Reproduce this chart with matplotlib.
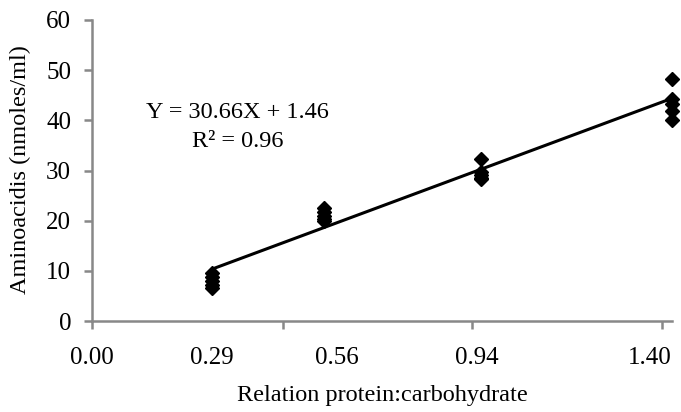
"""Aminoacids vs protein:carbohydrate relation — scatter with linear fit."""

import matplotlib
matplotlib.use("Agg")
import matplotlib.pyplot as plt
import matplotlib.transforms as mtransforms
import numpy as np

# Data
ratio_groups = [0.29, 0.56, 0.94, 1.40]
aminoacids = [
    [9.6, 8.8, 8.0, 7.2, 6.6],
    [22.6, 21.8, 21.0, 20.4, 20.0],
    [32.2, 29.8, 29.2, 28.6, 28.4],
    [48.2, 44.3, 43.2, 41.8, 40.0],
]
slope, intercept = 30.66, 1.46
r_squared = 0.96

x_tick_labels = ["0.00", "0.29", "0.56", "0.94", "1.40"]
x_label_pos = [0.0, 0.29, 0.59, 0.93, 1.40]
x_tick_marks = [0.0, 0.461, 0.917, 1.377]
y_ticks = [0, 10, 20, 30, 40, 50, 60]

plt.rcParams["font.family"] = ["Liberation Serif", "DejaVu Serif"]
axis_gray = "#888888"
tick_size = 18
text_size = 17.5

fig = plt.figure(figsize=(6.81, 4.12), dpi=100)
ax = fig.add_axes([92 / 681, 1 - 321 / 412, 580 / 681, 301 / 412])

xs = np.repeat(ratio_groups, [len(v) for v in aminoacids])
ys = np.concatenate(aminoacids)
ax.plot(xs, ys, linestyle="none", marker="D", markersize=6.8,
        color="black", zorder=3, clip_on=False)

fit_x = np.array([ratio_groups[0], ratio_groups[-1]])
ax.plot(fit_x, slope * fit_x + intercept, color="black", linewidth=2.2, zorder=2)

ax.set_xlim(0, 1.40)
ax.set_ylim(0, 60)

for side in ("top", "right"):
    ax.spines[side].set_visible(False)
for side in ("left", "bottom"):
    ax.spines[side].set_color(axis_gray)
    ax.spines[side].set_linewidth(1.8)

ax.set_yticks(y_ticks)
ax.tick_params(axis="y", colors=axis_gray, length=6, width=1.8, pad=9,
               labelcolor="black", labelsize=tick_size)
ax.set_xticks(x_tick_marks)
ax.set_xticklabels([])
ax.tick_params(axis="x", colors=axis_gray, length=6, width=1.8)

# Excel-style text labels under the x axis
trans = mtransforms.blended_transform_factory(ax.transData, ax.transAxes)
offset = mtransforms.ScaledTranslation(0, -37 / 100, fig.dpi_scale_trans)
for pos, lab in zip(x_label_pos, x_tick_labels):
    ha = "right" if pos == x_label_pos[-1] else "center"
    ax.text(pos, 0, lab, transform=trans + offset, ha=ha, va="center",
            fontsize=tick_size)

# trendline label
ax.text(0.352, 41.5, f"Y = {slope:.2f}X + {intercept:.2f}", ha="center",
        va="center", fontsize=text_size)
ax.text(0.352, 35.7, f"R² = {r_squared:.2f}", ha="center", va="center",
        fontsize=text_size)

fig.text(20 / 681, 1 - 170 / 412, "Aminoacidis (nmoles/ml)", rotation=90,
         ha="center", va="center", fontsize=text_size)
fig.text(382 / 681, 1 - 396 / 412, "Relation protein:carbohydrate",
         ha="center", va="center", fontsize=text_size)

fig.savefig("out.png", dpi=100)
